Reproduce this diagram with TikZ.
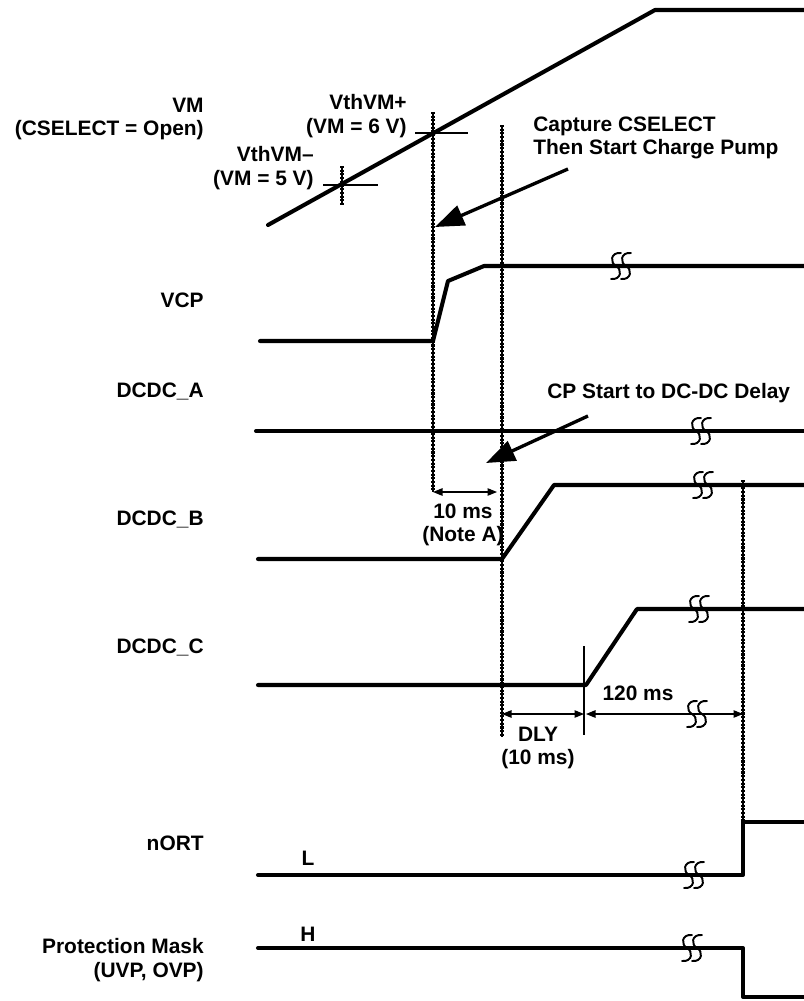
\documentclass[tikz,border=0pt]{standalone}
\usepackage{fontspec}
\setmainfont{Liberation Sans}
\usetikzlibrary{arrows.meta}

\begin{document}
\begin{tikzpicture}[
    x = 0.02cm, y = -0.02cm,
    lbl/.style = {font = \bfseries\fontsize{11.9}{13.4}\selectfont, inner sep = 0pt},
    sig/.style = {line width = 2.3pt, line join = round, line cap = round},
    guide/.style = {line width = 0.6pt},
    marker/.style = {line width = 1.9pt, dash pattern = on 1.2pt off 0.9pt,
                     preaction = {draw, solid, line width = 0.9pt}},
    callout/.style = {line width = 1.9pt, -{Triangle[length = 0.58cm, width = 0.42cm]}},
    span/.style = {line width = 0.6pt, {Triangle[length = 0.19cm, width = 0.15cm]}-{Triangle[length = 0.19cm, width = 0.15cm]}},
    wavebreak/.pic = {
        \foreach \dx in {0, 10} {
            \draw[line width = 1.1pt, line cap = round]
                (\dx+5, -13) .. controls (\dx-6, -14) and (\dx-6, -3) .. (\dx, 0)
                .. controls (\dx+6, 3) and (\dx+6, 14) .. (\dx-5, 13);
        }
    }
]

\useasboundingbox (0,0) rectangle (804,1001);

% --- Signal names ---
\node[lbl, anchor = east, align = right] (vmName)   at (204, 119) {VM\\(CSELECT = Open)};
\node[lbl, anchor = east]                (vcpName)  at (204, 300) {VCP};
\node[lbl, anchor = east]                (dcaName)  at (204, 391) {DCDC\_A};
\node[lbl, anchor = east]                (dcbName)  at (204, 519) {DCDC\_B};
\node[lbl, anchor = east]                (dccName)  at (204, 647) {DCDC\_C};
\node[lbl, anchor = east]                (nortName) at (204, 843) {nORT};
\node[lbl, anchor = east, align = right] (maskName) at (204, 960) {Protection Mask\\(UVP, OVP)};

% --- Thresholds on VM ---
\node[lbl, anchor = east, align = right] (vthHigh) at (407, 116) {VthVM+\\(VM = 6 V)};
\node[lbl, anchor = east, align = right] (vthLow)  at (314, 168) {VthVM--\\(VM = 5 V)};
\draw[guide] (415, 133) -- (468, 133);
\draw[guide] (323, 185) -- (378, 185);
\draw[marker] (342, 166) -- (342, 205);

% --- Waveforms ---
\draw[sig] (268, 225) -- (655, 10) -- (804, 10);
\draw[sig] (260, 341) -- (433, 341) -- (448, 281) -- (484, 266) -- (804, 266);
\draw[sig] (256, 431) -- (804, 431);
\draw[sig] (258, 559) -- (502, 559) -- (554, 485) -- (804, 485);
\draw[sig] (258, 685) -- (586, 685) -- (637, 609) -- (804, 609);
\draw[sig] (258, 875) -- (743, 875) -- (743, 822) -- (804, 822);
\draw[sig] (258, 948) -- (743, 948) -- (743, 997) -- (804, 997);

\node[lbl] (lowLevel)  at (308, 858) {L};
\node[lbl] (highLevel) at (308, 934) {H};

% --- Breaks ---
\pic at (616, 266) {wavebreak};
\pic at (696, 431) {wavebreak};
\pic at (698, 485) {wavebreak};
\pic at (694, 609) {wavebreak};
\pic at (689, 875) {wavebreak};
\pic at (687, 948) {wavebreak};
\pic at (692, 714) {wavebreak};

% --- Time markers ---
\coordinate (cpStart)  at (433, 112);
\coordinate (cpEnd)    at (433, 492);
\coordinate (dcStart)  at (502, 125);
\coordinate (dcEnd)    at (502, 737);
\coordinate (rstStart) at (743, 480);
\coordinate (rstEnd)   at (743, 822);
\draw[marker] (cpStart) -- (cpEnd);
\draw[marker] (dcStart) -- (dcEnd);
\draw[marker] (rstStart) -- (rstEnd);
\draw[guide] (584, 646) -- (584, 735);

% --- Delays ---
\draw[span] (433, 492) -- (497, 492);
\node[lbl, align = center] (noteA) at (463, 525) {10 ms\\(Note A)};

\draw[span] (502, 714) -- (584, 714);
\draw[span] (586, 714) -- (743, 714);
\node[lbl] (tReset) at (638, 693) {120 ms};
\node[lbl, align = center] (tDly) at (538, 748) {DLY\\(10 ms)};

% --- Callouts ---
\node[lbl, anchor = west, align = left] (capture) at (533, 138) {Capture CSELECT\\Then Start Charge Pump};
\coordinate (captureFrom) at (568, 169);
\coordinate (captureTo)   at (435, 227);
\draw[callout] (captureFrom) -- (captureTo);

\node[lbl, anchor = west] (cpDelay) at (547, 393) {CP Start to DC-DC Delay};
\coordinate (cpDelayFrom) at (588, 416);
\coordinate (cpDelayTo)   at (486, 463);
\draw[callout] (cpDelayFrom) -- (cpDelayTo);

\end{tikzpicture}
\end{document}
